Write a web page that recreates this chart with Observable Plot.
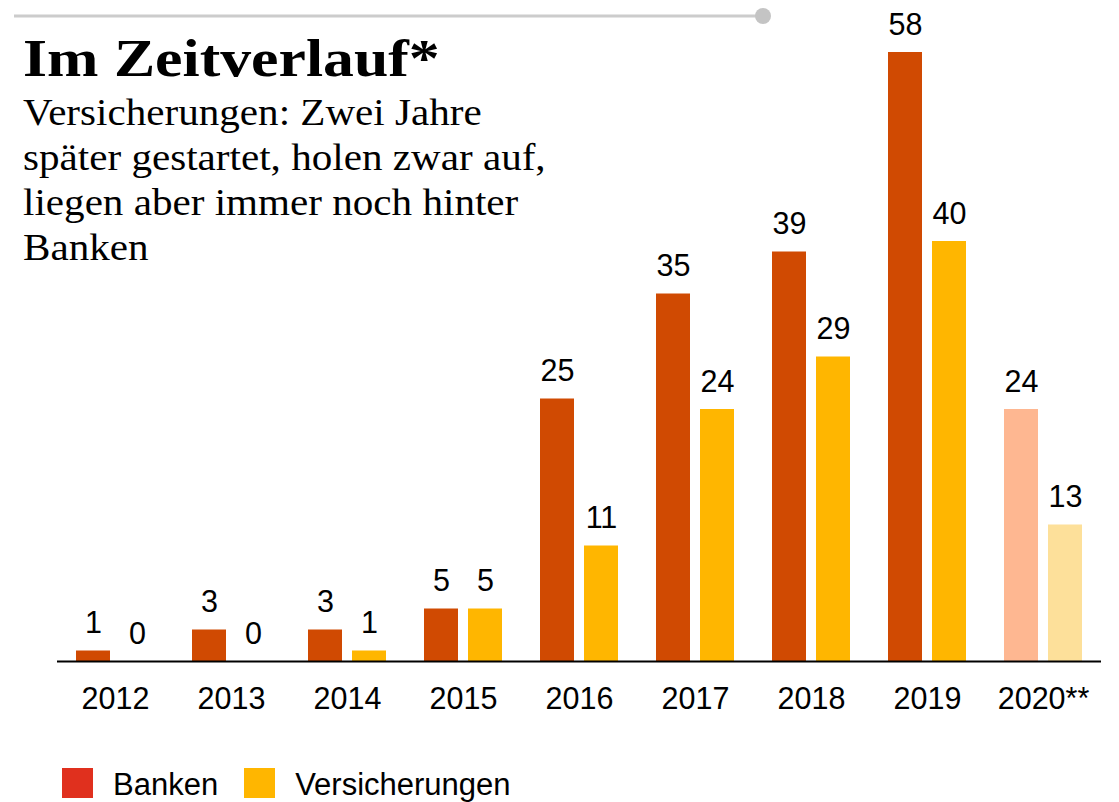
<!DOCTYPE html>
<html><head><meta charset="utf-8">
<script src="https://cdn.jsdelivr.net/npm/d3@7"></script>
<script src="https://cdn.jsdelivr.net/npm/@observablehq/plot@0.6"></script>
<style>
body{margin:0;background:#fff;font-family:"Liberation Sans",Arial,sans-serif;}
#wrap{position:relative;width:1119px;height:802px;overflow:hidden;}
#chart{position:absolute;left:0;top:0;}
#topline{position:absolute;left:0;top:0;}
#title{position:absolute;left:23px;top:32.3px;font-family:"Liberation Serif",serif;font-weight:bold;font-size:53px;line-height:53px;transform:scaleX(1.165);transform-origin:0 0;white-space:nowrap;color:#000;}
#subtitle{position:absolute;left:23px;top:89.8px;font-family:"Liberation Serif",serif;font-size:37.5px;line-height:45px;transform:scaleX(1.096);transform-origin:0 0;white-space:nowrap;color:#000;}
#legend{position:absolute;left:62px;top:768px;display:flex;align-items:center;font-size:31px;line-height:30px;color:#000;}
#legend .sw{width:31px;height:30px;display:inline-block;}
#legend .lab{margin-left:20px;margin-right:26px;position:relative;top:2px;}
</style>
</head><body>
<div id="wrap">
  <div id="chart"></div>
  <svg id="topline" width="800" height="30"><line x1="14" y1="16" x2="762" y2="16" stroke="#cccccc" stroke-width="3"/><circle cx="763" cy="16" r="8" fill="#c4c4c4"/></svg>
  <div id="title">Im Zeitverlauf*</div>
  <div id="subtitle">Versicherungen: Zwei Jahre<br>später gestartet, holen zwar auf,<br>liegen aber immer noch hinter<br>Banken</div>
  <div id="legend"></div>
</div>
<script>
const years = ["2012","2013","2014","2015","2016","2017","2018","2019","2020**"];
const series = ["Banken","Versicherungen"];
const banken = [1,3,3,5,25,35,39,58,24];
const versicherungen = [0,0,1,5,11,24,29,40,13];
const estimatedYears = ["2020**"];
const darkColors = {Banken:"#d04a02", Versicherungen:"#ffb600"};
const lightColors = {Banken:"#feb791", Versicherungen:"#fde09a"};
const legendColors = {Banken:"#e0301e", Versicherungen:"#ffb600"};

const data = years.flatMap((year,i)=>[
  {year, series:"Banken", value:banken[i]},
  {year, series:"Versicherungen", value:versicherungen[i]}
]);
const fillOf = d => (estimatedYears.includes(d.year) ? lightColors : darkColors)[d.series];

const chart = Plot.plot({
  width:1119, height:740,
  marginTop:52, marginBottom:79, marginLeft:57, marginRight:18,
  style:{fontFamily:"Liberation Sans, Arial, sans-serif", fontSize:"31px", color:"#000", background:"transparent", overflow:"visible"},
  fx:{domain:years, paddingInner:0.31, paddingOuter:0.155, label:null},
  x:{domain:series, paddingInner:0.2222, paddingOuter:0, axis:null},
  y:{domain:[0,58], axis:null},
  marks:[
    Plot.barY(data,{fx:"year", x:"series", y:"value", fill:fillOf}),
    Plot.ruleY([0],{stroke:"#000", strokeWidth:2, insetLeft:-18, insetRight:-18}),
    Plot.text(data,{fx:"year", x:"series", y:"value", text:d=>String(d.value), dy:-18, lineAnchor:"bottom", fill:"#000", fontSize:30.5}),
    Plot.axisFx({anchor:"bottom", tickSize:0, tickPadding:26, fontSize:30.5, label:null, fill:"#000"})
  ]
});
document.getElementById("chart").appendChild(chart);

const legend = document.getElementById("legend");
series.forEach(s=>{
  const sw = document.createElement("span"); sw.className="sw"; sw.style.background=legendColors[s];
  const lab = document.createElement("span"); lab.className="lab"; lab.textContent=s;
  legend.appendChild(sw); legend.appendChild(lab);
});
</script>
</body></html>
